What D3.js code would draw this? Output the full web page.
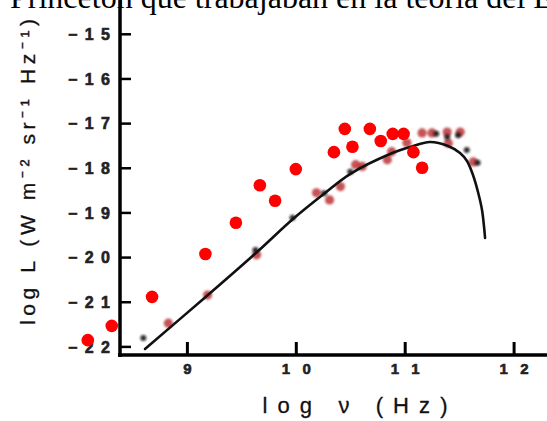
<!DOCTYPE html>
<html><head><meta charset="utf-8">
<script src="https://cdn.jsdelivr.net/npm/d3@7/dist/d3.min.js"></script>
<style>html,body{margin:0;padding:0;background:#fff;overflow:hidden}</style>
</head><body>
<svg id="c" width="547" height="421"></svg>
<script>
// ---- data ----
const xTicks = [9, 10, 11, 12];
const yTicks = [-15, -16, -17, -18, -19, -20, -21, -22];
const yTickLabels = ["−15", "−16", "−17", "−18", "−19", "−20", "−21", "−22"];
// bright red overlay points
const redX = [8.09, 8.31, 8.68, 9.17, 9.45, 9.67, 9.81, 10.0, 10.35, 10.45, 10.52, 10.68, 10.78, 10.89, 10.99, 11.08, 11.16];
const redY = [-21.86, -21.54, -20.89, -19.93, -19.23, -18.39, -18.74, -18.03, -17.65, -17.13, -17.53, -17.13, -17.40, -17.24, -17.24, -17.65, -18.0];
// faded (scanned) red observation points
const obsX = [8.83, 9.19, 9.64, 10.19, 10.31, 10.41, 10.55, 10.61, 10.84, 10.88, 11.02, 11.16, 11.25, 11.39, 11.40, 11.51, 11.63];
const obsY = [-21.48, -20.85, -19.95, -18.56, -18.72, -18.42, -17.93, -17.97, -17.82, -17.64, -17.44, -17.22, -17.22, -17.20, -17.45, -17.20, -17.87];
// small black observation points
const blkX = [8.60, 9.63, 9.97, 10.26, 10.50, 11.29, 11.39, 11.49, 11.57, 11.67];
const blkY = [-21.81, -19.84, -19.12, -18.57, -18.09, -17.24, -17.31, -17.27, -17.60, -17.89];
// model curve
const curveX = [8.615, 9.193, 9.644, 9.974, 10.268, 10.498, 10.865, 11.049, 11.232, 11.398, 11.508, 11.572, 11.627, 11.673, 11.71, 11.738];
const curveY = [-22.056, -20.849, -19.886, -19.147, -18.565, -18.14, -17.692, -17.535, -17.423, -17.512, -17.669, -17.848, -18.161, -18.542, -18.945, -19.572];
const xTitle = "log ν  (Hz)";
const yTitle = "log  L (W m⁻² sr⁻¹ Hz⁻¹)";
const topText = "Princeton que trabajaban en la teoría del E";

// ---- scales ----
const x = d3.scaleLinear().domain([9, 12]).range([186.9, 513.6]);
const y = d3.scaleLinear().domain([-15, -22]).range([33.8, 346.4]);
const svg = d3.select("#c");

const defs = svg.append("defs");
defs.append("filter").attr("id", "blur").attr("x", "-50%").attr("y", "-50%").attr("width", "200%").attr("height", "200%")
  .append("feGaussianBlur").attr("stdDeviation", 1.2);

// top cut-off text
svg.append("text").attr("x", 10).attr("y", 8)
  .style("font-family", "'Liberation Serif', 'Times New Roman', serif").style("font-size", "32px")
  .attr("fill", "#000").text(topText);

const xAxisY = 355, yAxisX = 120;
const sans = "'Liberation Sans', Arial, sans-serif";

// y axis
const gy = svg.append("g").attr("transform", `translate(${yAxisX},0)`)
  .call(d3.axisLeft(y).tickValues(yTicks).tickSize(-11).tickPadding(0)
    .tickFormat((d, i) => yTickLabels[i]));
gy.attr("font-size", null).attr("font-family", null);
gy.select(".domain").remove();
gy.selectAll(".tick line").attr("stroke", "#000").attr("stroke-width", 2.5);
gy.selectAll(".tick text")
  .attr("x", -10).attr("dy", "0.36em")
  .attr("text-anchor", "end")
  .style("font-family", sans).style("font-weight", "bold")
  .style("font-size", "16px").attr("fill", "#222")
  .attr("stroke", "#222").attr("stroke-width", 0.6)
  .attr("textLength", 42).attr("lengthAdjust", "spacing");
svg.append("line").attr("x1", yAxisX).attr("x2", yAxisX)
  .attr("y1", y(y.invert(0))).attr("y2", xAxisY + 2)
  .attr("stroke", "#000").attr("stroke-width", 3.5);

// x axis
const gx = svg.append("g").attr("transform", `translate(0,${xAxisY})`)
  .call(d3.axisBottom(x).tickValues(xTicks).tickSize(-13).tickPadding(0).tickFormat(d3.format("d")));
gx.attr("font-size", null).attr("font-family", null);
gx.select(".domain").remove();
gx.selectAll(".tick line").attr("stroke", "#000").attr("stroke-width", 3);
gx.selectAll(".tick text")
  .attr("y", 19).attr("dy", 0)
  .style("font-family", sans).style("font-weight", "bold")
  .style("font-size", "15px").attr("fill", "#222")
  .attr("stroke", "#222").attr("stroke-width", 0.6)
  .each(function(d) { if (String(d).length > 1) d3.select(this).attr("textLength", 29).attr("lengthAdjust", "spacing"); });
svg.append("line").attr("x1", yAxisX - 2).attr("x2", 547)
  .attr("y1", xAxisY).attr("y2", xAxisY)
  .attr("stroke", "#000").attr("stroke-width", 3.5);

// axis titles
svg.append("text").attr("x", 355).attr("y", 413).attr("text-anchor", "middle")
  .style("font-family", sans).style("font-size", "22px").attr("fill", "#111")
  .attr("stroke", "#111").attr("stroke-width", 0.3)
  .attr("textLength", 185).attr("lengthAdjust", "spacing").text(xTitle);
svg.append("text").attr("transform", "translate(35,172) rotate(-90)").attr("text-anchor", "middle")
  .style("font-family", sans).style("font-size", "21px").attr("fill", "#111")
  .attr("stroke", "#111").attr("stroke-width", 0.3)
  .attr("textLength", 306).attr("lengthAdjust", "spacing").text(yTitle);

// faded observation points
svg.append("g").attr("filter", "url(#blur)").selectAll("circle").data(obsX).join("circle")
  .attr("cx", (d) => x(d)).attr("cy", (d, i) => y(obsY[i])).attr("r", 4.6)
  .attr("fill", "#b8282c").attr("opacity", 0.8);
svg.append("g").attr("filter", "url(#blur)").selectAll("circle").data(blkX).join("circle")
  .attr("cx", (d) => x(d)).attr("cy", (d, i) => y(blkY[i])).attr("r", 3)
  .attr("fill", "#111").attr("opacity", 0.85);

// model curve
const line = d3.line().x((d) => x(d[0])).y((d) => y(d[1])).curve(d3.curveCatmullRom.alpha(0.5));
svg.append("path").datum(curveX.map((v, i) => [v, curveY[i]]))
  .attr("d", line).attr("fill", "none").attr("stroke", "#111").attr("stroke-width", 2.6)
  .attr("stroke-linecap", "round");

// bright red points
svg.append("g").selectAll("circle").data(redX).join("circle")
  .attr("cx", (d) => x(d)).attr("cy", (d, i) => y(redY[i])).attr("r", 6.3)
  .attr("fill", "#ff0000");
</script>
</body></html>
